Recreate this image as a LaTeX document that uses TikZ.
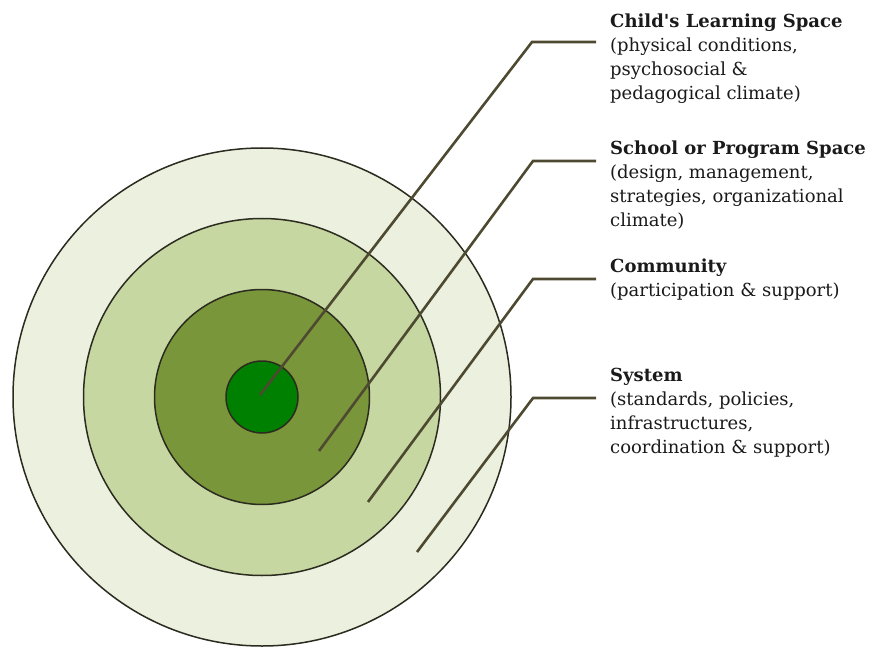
\documentclass[tikz,border=0pt]{standalone}
\usepackage{fontspec}
\setmainfont{DejaVu Serif}
\usepackage{xcolor}
\usepackage{tikz}
\usetikzlibrary{positioning,calc}
\definecolor{ringouter}{HTML}{EBF0DF}
\definecolor{ringmid}{HTML}{C6D7A1}
\definecolor{ringinner}{HTML}{7A963A}
\definecolor{ringcore}{HTML}{008000}
\definecolor{ringline}{HTML}{2B2B1F}
\definecolor{leadline}{HTML}{4E4A31}
\definecolor{textdark}{HTML}{1A1A1A}

\begin{document}
\begin{tikzpicture}[
    x=1pt, y=-1pt,
    ring/.style={circle, draw=ringline, line width=1.5pt, inner sep=0pt},
    leader/.style={draw=leadline, line width=2.6pt},
    layertext/.style={anchor=north west, align=left, inner sep=0pt, text=textdark, font=\fontsize{18}{24}\selectfont}
  ]
    \useasboundingbox (0,0) rectangle (870,647);
    % rings, outside in
    \node[ring, fill=ringouter, minimum size=498pt] (system) at (262,397) {};
    \node[ring, fill=ringmid, minimum size=357pt] (community) at (262,397) {};
    \node[ring, fill=ringinner, minimum size=215pt] (school) at (262,397) {};
    \node[ring, fill=ringcore, minimum size=72pt] (child) at (262,397) {};
    % labels
    \node[layertext] (childtxt) at (610,14) {\textbf{Child\textquotesingle s Learning Space}\\(physical conditions,\\psychosocial \&\\pedagogical climate)};
    \node[layertext] (schooltxt) at (610,141) {\textbf{School or Program Space}\\(design, management,\\strategies, organizational\\climate)};
    \node[layertext] (commtxt) at (610,259) {\textbf{Community}\\(participation \& support)};
    \node[layertext] (systxt) at (610,368) {\textbf{System}\\(standards, policies,\\infrastructures,\\coordination \& support)};
    % leader lines
    \coordinate (tip1) at (260,395);
    \coordinate (tip2) at (319,451);
    \coordinate (tip3) at (368,502);
    \coordinate (tip4) at (417,552);
    \coordinate (knee1) at (532,42);
    \coordinate (knee2) at (533,161);
    \coordinate (knee3) at (533,279);
    \coordinate (knee4) at (533,398);
    \draw[leader] (tip1) -- (knee1) -- ($(knee1 -| childtxt.west)+(-14,0)$);
    \draw[leader] (tip2) -- (knee2) -- ($(knee2 -| schooltxt.west)+(-14,0)$);
    \draw[leader] (tip3) -- (knee3) -- ($(knee3 -| commtxt.west)+(-14,0)$);
    \draw[leader] (tip4) -- (knee4) -- ($(knee4 -| systxt.west)+(-14,0)$);
  \end{tikzpicture}
\end{document}
